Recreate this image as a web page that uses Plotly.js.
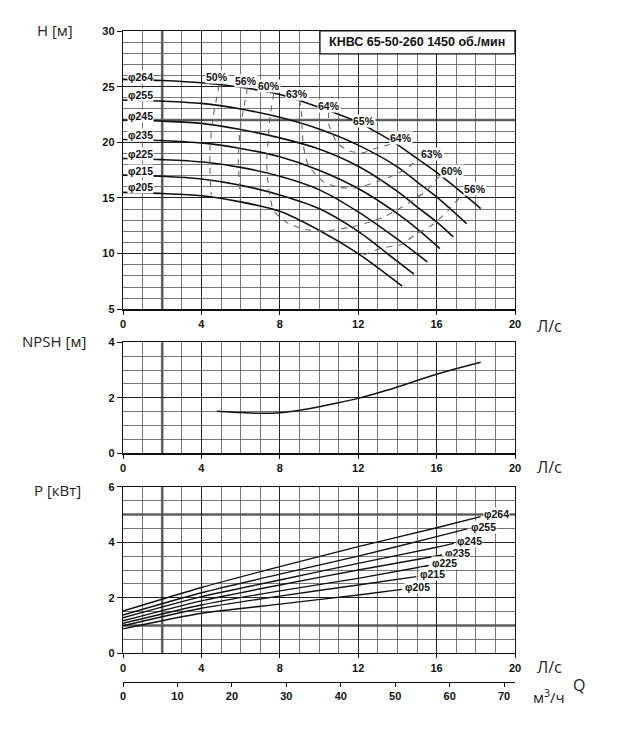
<!DOCTYPE html>
<html>
<head>
<meta charset="utf-8">
<script src="https://cdn.plot.ly/plotly-3.0.1.min.js"></script>
<style>
  html, body { margin: 0; padding: 0; background: #fff; }
  #chart { width: 620px; height: 742px; }
</style>
</head>
<body>
<div id="chart"></div>
<script>
// диаметры рабочего колеса
const diameters = ['φ264', 'φ255', 'φ245', 'φ235', 'φ225', 'φ215', 'φ205'];

// H(Q), Л/с -> м
const qH264 = [0, 2, 4, 6, 8, 10, 12, 13, 14, 15, 16, 17, 18.25];
const h264  = [25.65, 25.55, 25.35, 24.95, 24.3, 23.15, 21.8, 20.85, 19.8, 18.55, 17.3, 15.9, 14.05];
const qH255 = [0, 2, 4, 6, 8, 10, 12, 14, 15, 16, 17.53];
const h255  = [23.8, 23.7, 23.5, 23.0, 22.25, 21.2, 19.75, 17.8, 16.45, 15.1, 12.7];
const qH245 = [0, 2, 4, 6, 8, 10, 12, 14, 15, 16, 16.85];
const h245  = [22.0, 21.9, 21.7, 21.15, 20.4, 19.4, 17.85, 15.6, 14.2, 12.85, 11.5];
const qH235 = [0, 2, 4, 6, 8, 10, 12, 14, 15, 16.17];
const h235  = [20.25, 20.15, 19.95, 19.45, 18.7, 17.5, 15.85, 13.6, 12.25, 10.45];
const qH225 = [0, 2, 4, 6, 8, 10, 12, 14, 15.52];
const h225  = [18.55, 18.45, 18.25, 17.75, 16.95, 15.75, 13.75, 11.3, 9.27];
const qH215 = [0, 2, 4, 6, 8, 10, 12, 14, 14.84];
const h215  = [17.05, 16.95, 16.7, 16.15, 15.27, 14.05, 12.0, 9.3, 8.16];
const qH205 = [0, 2, 4, 6, 8, 10, 12, 14.24];
const h205  = [15.5, 15.4, 15.2, 14.65, 13.8, 12.1, 10.0, 7.08];

// линии КПД
const effQ50 = [4.9, 4.8, 4.6, 4.45, 4.43, 4.5];
const effH50 = [25.15, 24.2, 22.3, 19.9, 17.8, 15.25];
const effQ56a = [6.35, 6.15, 5.97, 5.88, 5.95, 6.0];
const effH56a = [24.9, 23.0, 21.1, 18.4, 16.0, 14.65];
const effQ60 = [7.7, 7.5, 7.42, 7.33, 7.42, 7.67, 8.0, 8.44, 9.29, 10.32, 11.68, 12.87, 13.39, 14.0, 14.75, 15.52, 16.03, 16.3];
const effH60 = [24.4, 22.3, 20.5, 18.1, 16.0, 13.9, 13.3, 12.71, 12.17, 12.05, 12.4, 13.0, 13.37, 13.95, 14.74, 15.7, 16.75, 17.05];
const effQ63 = [9.0, 9.09, 9.2, 9.46, 10.23, 11.08, 11.85, 12.7, 13.64, 14.33, 14.92, 15.1];
const effH63 = [23.85, 23.03, 19.74, 17.94, 16.45, 15.94, 15.9, 16.3, 16.9, 17.5, 18.24, 18.4];
const effQ64 = [10.5, 10.49, 10.9, 11.43, 12.2, 12.87, 13.6, 13.9];
const effH64 = [22.75, 21.69, 20.04, 19.3, 19.05, 19.44, 19.8, 19.9];
const effQ56b = [12.28, 13.13, 14.24, 14.92, 15.69, 16.62, 17.14, 17.5];
const effH56b = [9.87, 10.47, 10.85, 11.75, 12.47, 13.9, 14.95, 15.3];

// подписи КПД
const effLabels = ['50%', '56%', '60%', '63%', '64%', '65%', '64%', '63%', '60%', '56%'];
const effLabelQ = [4.79, 6.28, 7.45, 8.88, 10.52, 12.31, 14.2, 15.74, 16.76, 17.94];
const effLabelH = [25.84, 25.48, 25.04, 24.33, 23.24, 21.89, 20.37, 18.93, 17.4, 15.78];
const diamLabelH = [25.89, 24.23, 22.34, 20.68, 18.98, 17.45, 16.01];

// NPSH
const npshQ = [4.8, 6, 7, 8, 9.4, 10.7, 12, 13.5, 16, 18.25];
const npshH = [1.52, 1.47, 1.44, 1.46, 1.6, 1.78, 1.98, 2.28, 2.85, 3.28];

// мощность P(Q), кВт
const qP264 = [0, 4, 8, 12, 16, 18.25];
const p264  = [1.52, 2.37, 3.12, 3.84, 4.52, 4.92];
const qP255 = [0, 4, 8, 12, 16, 17.56];
const p255  = [1.38, 2.18, 2.85, 3.5, 4.2, 4.48];
const qP245 = [0, 4, 8, 12, 16, 16.88];
const p245  = [1.28, 2.04, 2.64, 3.24, 3.82, 3.96];
const qP235 = [0, 4, 8, 12, 16.28];
const p235  = [1.17, 1.89, 2.46, 3.0, 3.54];
const qP225 = [0, 4, 8, 12, 15.6];
const p225  = [1.08, 1.74, 2.25, 2.7, 3.16];
const qP215 = [0, 4, 8, 12, 14.97];
const p215  = [0.99, 1.62, 2.06, 2.46, 2.76];
const qP205 = [0, 4, 8, 12, 14.24];
const p205  = [0.88, 1.44, 1.77, 2.1, 2.3];

const m3hTicks = [0, 10, 20, 30, 40, 50, 60, 70];

const headQ = [qH264, qH255, qH245, qH235, qH225, qH215, qH205];
const headH = [h264, h255, h245, h235, h225, h215, h205];
const powQ = [qP264, qP255, qP245, qP235, qP225, qP215, qP205];
const powP = [p264, p255, p245, p235, p225, p215, p205];
const effQ = [effQ50, effQ56a, effQ60, effQ63, effQ64, effQ56b];
const effH = [effH50, effH56a, effH60, effH63, effH64, effH56b];

const tickFont = { family: 'Liberation Sans, Arial, sans-serif', size: 11, color: '#111', weight: 'bold' };
const labFont = { family: 'Liberation Sans, Arial, sans-serif', size: 10.5, color: '#111', weight: 'bold' };
const unitFont = { family: 'Open Sans, Noto Sans, sans-serif', size: 15, color: '#222' };

const traces = [];
headQ.forEach(function(q, i) {
  traces.push({ x: q, y: headH[i], xaxis: 'x', yaxis: 'y', mode: 'lines',
    line: { color: '#111', width: 1.6, shape: 'spline', smoothing: 0.8 }, hoverinfo: 'skip' });
});
effQ.forEach(function(q, i) {
  traces.push({ x: q, y: effH[i], xaxis: 'x', yaxis: 'y', mode: 'lines',
    line: { color: '#666', width: 1.1, dash: '6px,6px', shape: 'spline', smoothing: 0.6 }, hoverinfo: 'skip' });
});
traces.push({ x: npshQ, y: npshH, xaxis: 'x2', yaxis: 'y2', mode: 'lines',
  line: { color: '#111', width: 1.5, shape: 'spline' }, hoverinfo: 'skip' });
powQ.forEach(function(q, i) {
  traces.push({ x: q, y: powP[i], xaxis: 'x3', yaxis: 'y3', mode: 'lines',
    line: { color: '#111', width: 1.4, shape: 'spline', smoothing: 0.6 }, hoverinfo: 'skip' });
});
// служебная ось м3/ч
traces.push({ x: m3hTicks, y: m3hTicks.map(function() { return null; }), xaxis: 'x4', yaxis: 'y3',
  mode: 'lines', hoverinfo: 'skip' });

function xAx(anchor) {
  return {
    anchor: anchor, domain: [0, 1], range: [0, 20], tick0: 0, dtick: 4,
    showgrid: true, gridcolor: '#222', gridwidth: 1,
    minor: { dtick: 1, showgrid: true, gridcolor: '#555', gridwidth: 0.8 },
    showline: true, linecolor: '#111', linewidth: 1.2, mirror: true,
    ticks: 'outside', ticklen: 4, tickcolor: '#111', zeroline: false,
    tickfont: tickFont, fixedrange: true
  };
}
function yAx(anchor, domain, range, dtick, minor) {
  return {
    anchor: anchor, domain: domain, range: range, tick0: 0, dtick: dtick,
    showgrid: true, gridcolor: '#222', gridwidth: 1,
    minor: { dtick: minor, showgrid: true, gridcolor: '#555', gridwidth: 0.8 },
    showline: true, linecolor: '#111', linewidth: 1.2, mirror: true,
    ticks: 'outside', ticklen: 5, tickcolor: '#111', zeroline: false,
    tickfont: tickFont, fixedrange: true
  };
}

const thick = { color: '#666', width: 2.6 };
const shapes = [
  { type: 'line', xref: 'x', yref: 'y domain', x0: 2, x1: 2, y0: 0, y1: 1, line: thick, layer: 'below' },
  { type: 'line', xref: 'x domain', yref: 'y', x0: 0, x1: 1, y0: 22, y1: 22, line: thick, layer: 'below' },
  { type: 'line', xref: 'x2', yref: 'y2 domain', x0: 2, x1: 2, y0: 0, y1: 1, line: thick, layer: 'below' },
  { type: 'line', xref: 'x3', yref: 'y3 domain', x0: 2, x1: 2, y0: 0, y1: 1, line: thick, layer: 'below' },
  { type: 'line', xref: 'x3 domain', yref: 'y3', x0: 0, x1: 1, y0: 1, y1: 1, line: thick, layer: 'below' },
  { type: 'line', xref: 'x3 domain', yref: 'y3', x0: 0, x1: 1, y0: 5, y1: 5, line: thick, layer: 'below' },
  { type: 'rect', xref: 'x', yref: 'y', x0: 10.05, x1: 20, y0: 27.95, y1: 30,
    fillcolor: '#fff', line: { color: '#111', width: 1.2 }, layer: 'above' }
];

const annotations = [
  { xref: 'x', yref: 'y', x: 15.02, y: 28.97, text: 'КНВС 65-50-260 1450 об./мин', showarrow: false,
    xanchor: 'center', yanchor: 'middle',
    font: { family: 'Liberation Sans, Arial, sans-serif', size: 12.5, color: '#111', weight: 'bold' } }
];
effLabels.forEach(function(t, i) {
  annotations.push({ xref: 'x', yref: 'y', x: effLabelQ[i], y: effLabelH[i], text: t, showarrow: false,
    xanchor: 'center', yanchor: 'middle', font: labFont, bgcolor: '#fff', borderpad: 0 });
});
diameters.forEach(function(d, i) {
  annotations.push({ xref: 'x', yref: 'y', x: 0.9, y: diamLabelH[i], text: d, showarrow: false,
    xanchor: 'center', yanchor: 'middle', font: labFont, bgcolor: '#fff', borderpad: 0 });
  const q = powQ[i], p = powP[i];
  annotations.push({ xref: 'x3', yref: 'y3', x: q[q.length - 1] + 0.12, y: p[p.length - 1] + 0.08,
    text: d, showarrow: false, xanchor: 'left', yanchor: 'middle', font: labFont, bgcolor: '#fff', borderpad: 0 });
});
[
  ['H [м]', -0.1735, 1.0015, 15],
  ['NPSH [м]', -0.176, 0.5238, 15],
  ['P [кВт]', -0.166, 0.295, 15],
  ['Л/с', 1.087, 0.547, 16],
  ['Л/с', 1.087, 0.330, 16],
  ['Л/с', 1.087, 0.023, 16],
  ['м<sup>3</sup>/ч', 1.087, -0.022, 15],
  ['Q', 1.163, -0.004, 16]
].forEach(function(a) {
  annotations.push({ xref: 'paper', yref: 'paper', x: a[1], y: a[2], text: a[0], showarrow: false,
    xanchor: 'center', yanchor: 'middle', font: Object.assign({}, unitFont, { size: a[3] }) });
});

const layout = {
  width: 620, height: 742,
  margin: { l: 123, r: 105, t: 31, b: 60 },
  paper_bgcolor: '#fff', plot_bgcolor: '#fff',
  showlegend: false,
  xaxis: xAx('y'),
  xaxis2: xAx('y2'),
  xaxis3: xAx('y3'),
  xaxis4: {
    anchor: 'free', position: 0, overlaying: 'x3', side: 'bottom', range: [0, 72],
    tickvals: m3hTicks, showgrid: false, showline: true, linecolor: '#111', linewidth: 1.2,
    ticks: 'outside', ticklen: 4, tickcolor: '#111', zeroline: false, tickfont: tickFont, fixedrange: true
  },
  yaxis: yAx('x', [0.5725, 1], [5, 30], 5, 1),
  yaxis2: yAx('x2', [0.3513, 0.5218], [0, 4], 2, 0.5),
  yaxis3: yAx('x3', [0.0441, 0.3], [0, 6], 2, 0.5),
  shapes: shapes,
  annotations: annotations
};

Plotly.newPlot('chart', traces, layout, { staticPlot: true, displayModeBar: false });
</script>
</body>
</html>
